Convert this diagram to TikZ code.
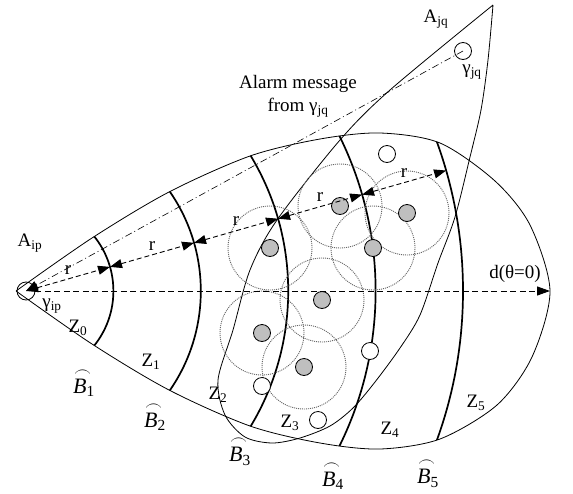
\documentclass[tikz,border=0pt]{standalone}
\usepackage{amsmath}
\usepackage{fontspec}
\setmainfont{Liberation Serif}
\usetikzlibrary{arrows.meta, calc, backgrounds}

\newcommand{\arcb}[1]{\makebox[0pt][l]{\hspace{1pt}\raisebox{17pt}{\fontsize{17}{17}\selectfont$\frown$}}\textit{B}\textsubscript{#1}}

\begin{document}
\begin{tikzpicture}[x=1pt, y=-1pt, font=\fontsize{19}{23}\selectfont,
    border/.style={line width=0.8pt},
    zonearc/.style={line width=1.7pt},
    sensrange/.style={draw=black!60, dash pattern=on 1pt off 1pt, line width=0.9pt},
    sensor/.style={circle, draw, line width=0.8pt, fill=gray!50, minimum size=17pt, inner sep=0pt},
    idle/.style={circle, draw, line width=0.8pt, fill=white, minimum size=17pt, inner sep=0pt},
    rarrow/.style={dash pattern=on 5pt off 3pt, line width=0.9pt,
                   {Triangle[length=12pt,width=9pt]}-{Triangle[length=12pt,width=9pt]}},
    alarm/.style={line width=0.6pt, dash pattern=on 7pt off 3pt on 1pt off 3pt,
                  -{Triangle[length=12pt,width=9pt]}},
    axisline/.style={line width=1pt, dash pattern=on 6pt off 3.5pt, -{Triangle[length=13pt,width=9pt]}},
    arcfont/.style={font=\fontsize{22}{26}\selectfont}]

  \useasboundingbox (0,0) rectangle (573,493);

  % nodes
  \node[circle, draw, line width=0.8pt, minimum size=18pt, inner sep=0pt] (gip) at (26,291) {};
  \node[idle] (gjq) at (463,51) {};
  \foreach \n/\x/\y in {1/270/248, 2/340/206, 3/407/213, 4/373/248,
                        5/322/300, 6/262/333, 7/304/367}
    \node[sensor] (s\n) at (\x,\y) {};
  \foreach \n/\x/\y in {1/387/154, 2/370/351, 3/318/420, 4/262/386}
    \node[idle] (w\n) at (\x,\y) {};
  \coordinate (dend) at (550,291);

  \begin{scope}[on background layer]
    % area A_ip
    \draw[border] plot[smooth] coordinates {(16,291) (92,238) (169,192) (250,156) (320,139)
      (380,133) (440,143) (495,181) (530,225) (550,291) (532,357) (497,405) (440,439)
      (380,449) (320,443) (250,426) (169,390) (92,344) (16,291)};
    \begin{scope}
      \clip plot[smooth] coordinates {(16,291) (92,238) (169,192) (250,156) (320,139)
        (380,133) (440,143) (495,181) (530,225) (550,291) (532,357) (497,405) (440,439)
        (380,449) (320,443) (250,426) (169,390) (92,344) (16,291)};
      \foreach \k in {1,...,5}
        \draw[zonearc] (gip.center) circle[radius=87.4pt*\k];
    \end{scope}
    % area A_jq
    \draw[border] plot[smooth] coordinates {(493,5) (390,90) (340,140) (277,220) (250,270)
      (233,330) (218,380) (225,415) (245,437) (272,443) (300,438) (330,426) (353,408)
      (375,382) (400,348) (420,315) (438,263) (455,217) (470,157) (481,110) (488,60) (493,5)};
    % sensing ranges
    \foreach \i in {1,...,7}
      \draw[sensrange] (s\i) circle[radius=42pt];
  \end{scope}

  % rings of width r
  \foreach \k in {0,...,5}
    \coordinate (m\k) at ($(gip.center)+(16:{87.4pt*\k})$);
  \foreach \a/\b in {0/1, 1/2, 2/3, 3/4, 4/5}
    \draw[rarrow] (m\a) -- node[midway, above=1pt] (r\b) {r} (m\b);

  \draw[axisline] (gip.east) -- (dend);
  \draw[alarm] (gjq.center) -- (gip.center);

  % labels
  \node (lAip) at (30,243) {A\textsubscript{ip}};
  \node (lgip) at (52,306) {γ\textsubscript{ip}};
  \node (lAjq) at (436,19) {A\textsubscript{jq}};
  \node (lgjq) at (472,72) {γ\textsubscript{jq}};
  \node[align=center] (lalarm) at (298,96) {Alarm message\\from γ\textsubscript{jq}};
  \node (ld) at (515,274) {d(θ=0)};
  \foreach \n/\x/\y in {0/78/328, 1/151/362, 2/218/395, 3/290/423, 4/390/430, 5/476/403}
    \node (z\n) at (\x,\y) {Z\textsubscript{\n}};
  \foreach \n/\x/\y in {1/84/383, 2/155/417, 3/240/452, 4/333/476, 5/428/474}
    \node[arcfont] (b\n) at (\x,\y) {\arcb{\n}};
\end{tikzpicture}
\end{document}
